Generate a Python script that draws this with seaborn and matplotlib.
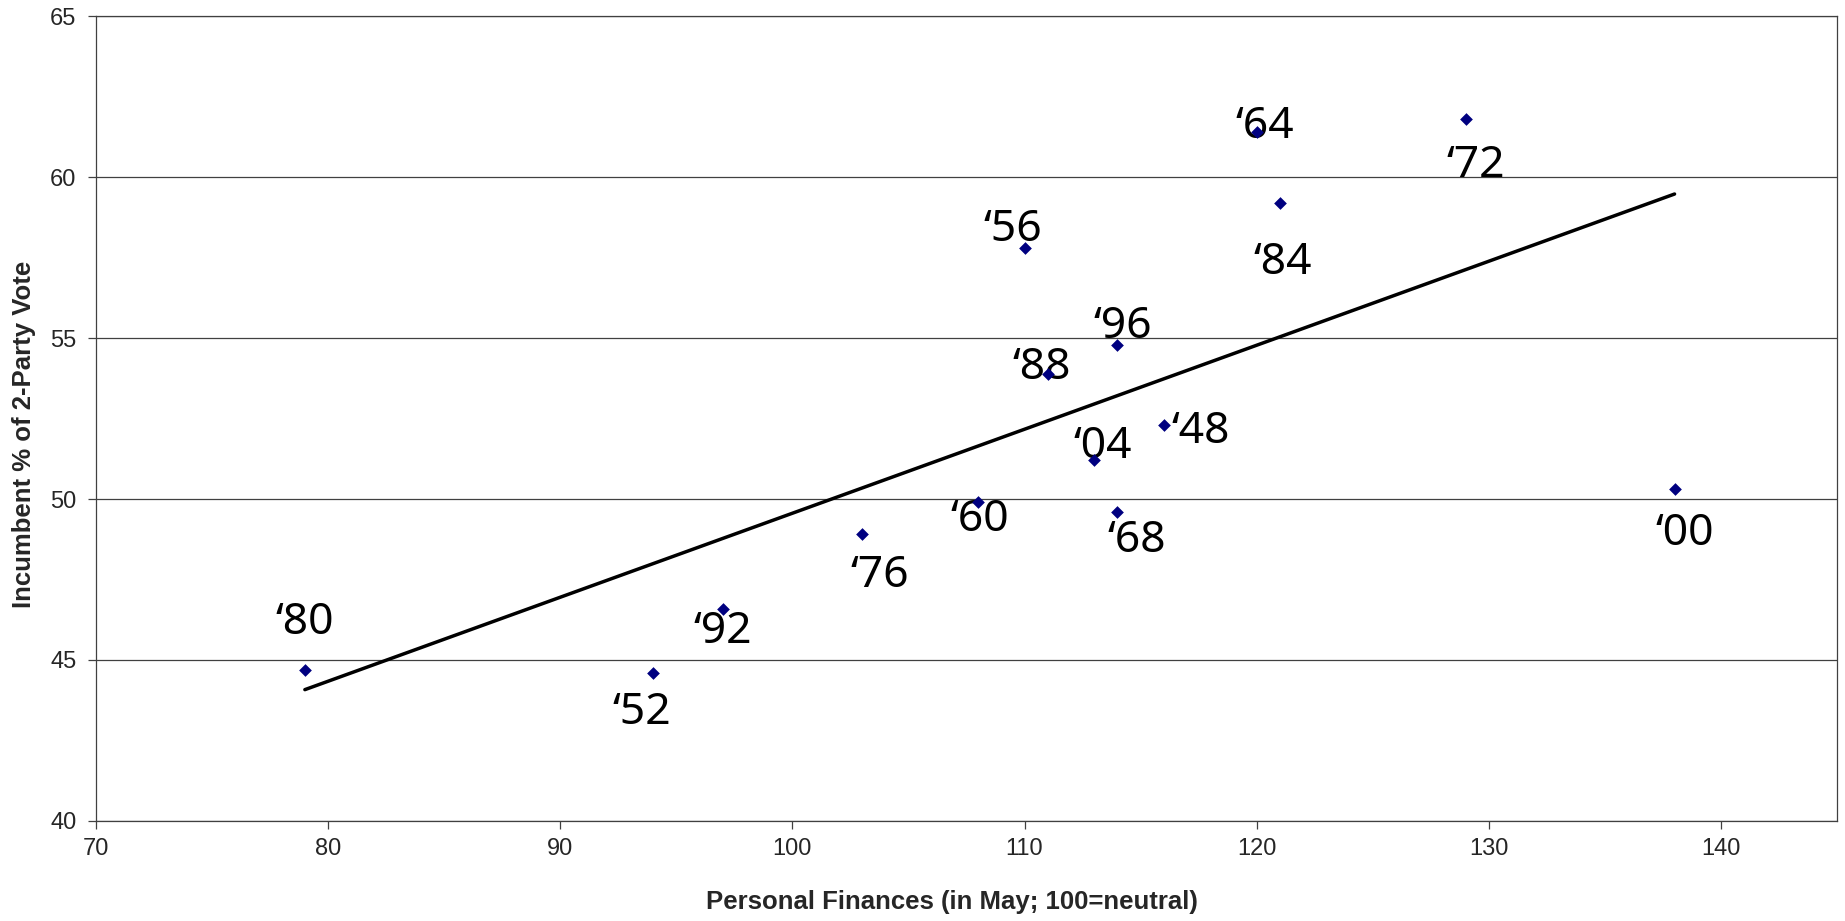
import numpy as np
import pandas as pd
import matplotlib
matplotlib.use('Agg')
import matplotlib.pyplot as plt
import seaborn as sns

# election years, personal finances index (May) and incumbent share of 2-party vote
years = ['‘48', '‘52', '‘56', '‘60', '‘64', '‘68', '‘72', '‘76',
         '‘80', '‘84', '‘88', '‘92', '‘96', '‘00', '‘04']
finances = [116, 94, 110, 108, 120, 114, 129, 103, 79, 121, 111, 97, 114, 138, 113]
vote = [52.3, 44.6, 57.8, 49.9, 61.4, 49.6, 61.8, 48.9, 44.7, 59.2, 53.9, 46.6, 54.8, 50.3, 51.2]

x_ticks = [70, 80, 90, 100, 110, 120, 130, 140]
y_ticks = [40, 45, 50, 55, 60, 65]

# where each year label sits relative to its point (offset points)
label_offsets = [(26.5, -12.7), (-8, -37), (-8.6, 4.8), (1.5, -21), (5.8, -4.1),
                 (13.7, -29), (7.6, -41.5), (13, -38), (0, 26), (2.2, -51),
                 (-4.3, -3.6), (0, -24.5), (4, 4.8), (7.2, -40.3), (6.5, 1.5)]

df = pd.DataFrame({'year': years, 'finances': finances, 'vote': vote})

sns.set_style('ticks')
plt.rcParams['font.family'] = ['Liberation Sans', 'DejaVu Sans']

fig, ax = plt.subplots(figsize=(18.45, 9.21), dpi=100)
fig.subplots_adjust(left=0.052, right=0.9957, top=0.9822, bottom=0.1087)

# linear trend line (OLS), drawn from min to max x like the excel trendline
sns.regplot(data=df, x='finances', y='vote', scatter=False, ci=None, truncate=True,
            color='black', line_kws={'lw': 2.5, 'zorder': 2}, ax=ax)
sns.scatterplot(data=df, x='finances', y='vote', marker='D', s=42, color='#000080',
                edgecolor='#000080', linewidth=0, zorder=4, ax=ax)

for i, row in df.iterrows():
    ax.annotate(row['year'], (row['finances'], row['vote']), xytext=label_offsets[i],
                textcoords='offset points', ha='center', va='baseline',
                fontsize=32, family=['Noto Sans', 'DejaVu Sans'], color='black', zorder=3)

ax.set_xlim(70, 145)
ax.set_ylim(40, 65)
ax.set_xticks(x_ticks)
ax.set_yticks(y_ticks)
ax.grid(axis='y', color='#404040', lw=0.9)
ax.set_axisbelow(True)
for s in ax.spines.values():
    s.set_color('#404040')
    s.set_linewidth(0.9)
ax.tick_params(direction='out', length=6, width=0.9, color='#404040', labelsize=17)
ax.tick_params(axis='y', pad=8)
ax.tick_params(axis='x', pad=6)

ax.set_xlabel('Personal Finances (in May; 100=neutral)', fontsize=18.5, fontweight='bold', va='center')
ax.set_ylabel('Incumbent % of 2-Party Vote', fontsize=18.5, fontweight='bold', va='center')
ax.xaxis.set_label_coords(0.4917, -0.1014)
ax.yaxis.set_label_coords(-0.0415, 0.48)

fig.savefig('out.png', dpi=100)
